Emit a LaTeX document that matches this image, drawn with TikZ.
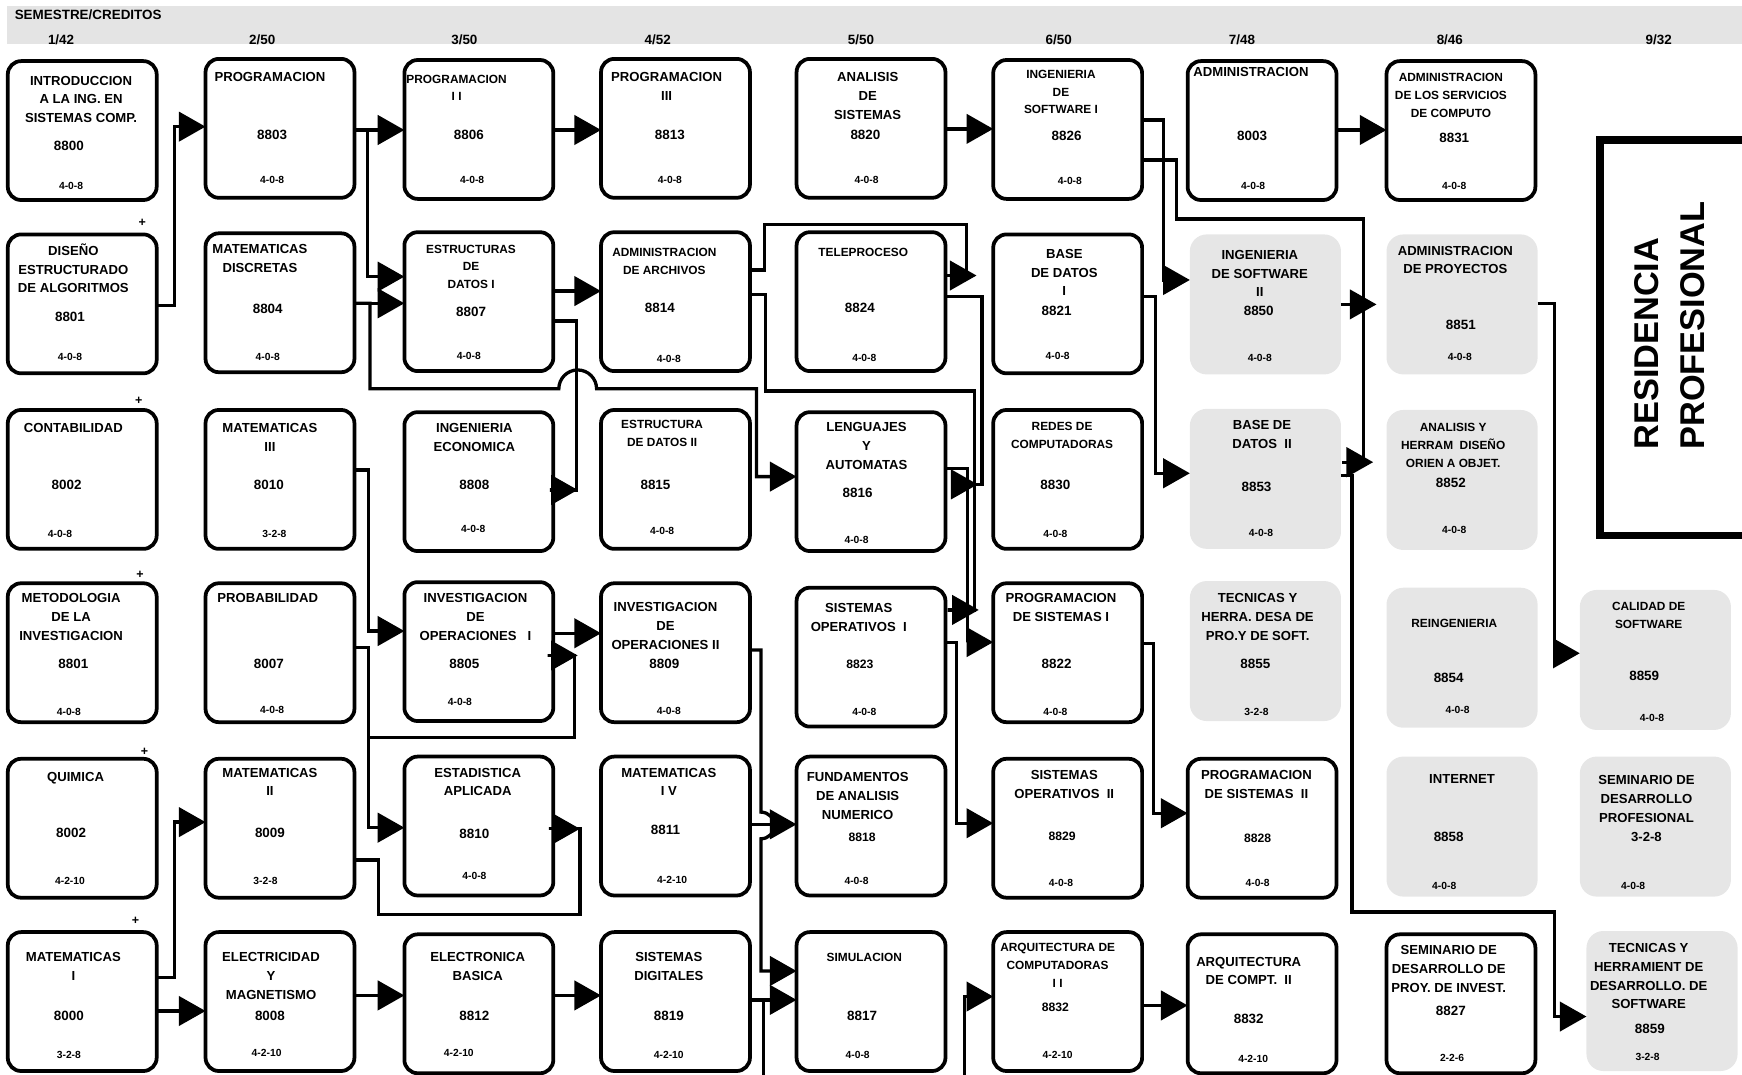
\documentclass[tikz,border=0pt]{standalone}
\usepackage{fontspec}
\setmainfont{Liberation Sans}
\usetikzlibrary{arrows.meta}
\definecolor{banda}{HTML}{E4E4E4}
\definecolor{grisclaro}{HTML}{E6E6E6}
\begin{document}
\begin{tikzpicture}[x=0.025cm,y=-0.025cm,line join=miter,
	blanco/.style={draw,line width=2.4pt,rounded corners=0.3cm,minimum width=3.35cm,minimum height=3.125cm,anchor=north west,inner sep=0pt,outer sep=0pt},
	gris/.style={fill=grisclaro,rounded corners=0.38cm,minimum width=3.4cm,minimum height=3.15cm,anchor=north west,inner sep=0pt,outer sep=0pt},
	ttl/.style={font=\fontsize{8.4}{12}\selectfont\bfseries,align=center,anchor=north,inner sep=0pt},
	ttls/.style={font=\fontsize{7.6}{11.3}\selectfont\bfseries,align=center,anchor=north,inner sep=0pt},
	num/.style={font=\fontsize{8.6}{10}\selectfont\bfseries,inner sep=0pt},
	nums/.style={font=\fontsize{7.8}{10}\selectfont\bfseries,inner sep=0pt},
	cred/.style={font=\fontsize{6.6}{8}\selectfont\bfseries,inner sep=0pt},
	mas/.style={font=\fontsize{8}{8}\selectfont\bfseries,inner sep=0pt},
	lin/.style={line width=2.1pt},
	arr/.style={lin,-{Triangle[length=0.6cm,width=0.66cm]}}]
	\useasboundingbox (0,0) rectangle (1568,967);
	% cabecera
	\fill[banda] (6,5) rectangle (1575,40);
	\node[anchor=west,inner sep=0pt,font=\fontsize{8.6}{10}\selectfont\bfseries] (semcred) at (13,13) {SEMESTRE/CREDITOS};
	\node[num] (s1) at (55,36) {1/42};
	\node[num] (s2) at (236,36) {2/50};
	\node[num] (s3) at (418,36) {3/50};
	\node[num] (s4) at (592,36) {4/52};
	\node[num] (s5) at (775,36) {5/50};
	\node[num] (s6) at (953,36) {6/50};
	\node[num] (s7) at (1118,36) {7/48};
	\node[num] (s8) at (1305,36) {8/46};
	\node[num] (s9) at (1493,36) {9/32};
	% semestre 1
	\node[blanco] (intro) at (7,55) {};
	\node[ttl] (intro-t) at (73,68) {INTRODUCCION\\A LA ING. EN\\SISTEMAS COMP.};
	\node[num] (intro-n) at (62,131) {8800}; \node[cred] (intro-c) at (64,167) {4-0-8};
	\node[blanco] (diseno) at (7,211) {};
	\node[ttl] (diseno-t) at (66,219) {DISEÑO\\ESTRUCTURADO\\DE ALGORITMOS};
	\node[num] (diseno-n) at (63,285) {8801}; \node[cred] (diseno-c) at (63,321) {4-0-8};
	\node[blanco] (conta) at (7,369) {};
	\node[ttl] (conta-t) at (66,381) {CONTABILIDAD};
	\node[num] (conta-n) at (60,436) {8002}; \node[cred] (conta-c) at (54,481) {4-0-8};
	\node[blanco] (metodo) at (7,525) {};
	\node[ttl] (metodo-t) at (64,534) {METODOLOGIA\\DE LA\\INVESTIGACION};
	\node[num] (metodo-n) at (66,598) {8801}; \node[cred] (metodo-c) at (62,641) {4-0-8};
	\node[blanco] (quimica) at (7,683) {};
	\node[ttl] (quimica-t) at (68,695) {QUIMICA};
	\node[num] (quimica-n) at (64,750) {8002}; \node[cred] (quimica-c) at (63,793) {4-2-10};
	\node[blanco] (mateI) at (7,839) {};
	\node[ttl] (mateI-t) at (66,857) {MATEMATICAS\\I};
	\node[num] (mateI-n) at (62,914) {8000}; \node[cred] (mateI-c) at (62,950) {3-2-8};
	\node[mas] (mas1) at (128,201) {+};
	\node[mas] (mas2) at (125,361) {+};
	\node[mas] (mas3) at (126,517) {+};
	\node[mas] (mas4) at (130,677) {+};
	\node[mas] (mas5) at (122,829) {+};
	% semestre 2
	\node[blanco] (progr) at (185,53) {};
	\node[ttl] (progr-t) at (243,65) {PROGRAMACION};
	\node[num] (progr-n) at (245,121) {8803}; \node[cred] (progr-c) at (245,162) {4-0-8};
	\node[blanco] (discr) at (185,210) {};
	\node[ttl] (discr-t) at (234,220) {MATEMATICAS\\DISCRETAS};
	\node[num] (discr-n) at (241,278) {8804}; \node[cred] (discr-c) at (241,321) {4-0-8};
	\node[blanco] (mateIII) at (185,369) {};
	\node[ttl] (mateIII-t) at (243,381) {MATEMATICAS\\III};
	\node[num] (mateIII-n) at (242,436) {8010}; \node[cred] (mateIII-c) at (247,481) {3-2-8};
	\node[blanco] (proba) at (185,525) {};
	\node[ttl] (proba-t) at (241,534) {PROBABILIDAD};
	\node[num] (proba-n) at (242,598) {8007}; \node[cred] (proba-c) at (245,639) {4-0-8};
	\node[blanco] (mateII) at (185,683) {};
	\node[ttl] (mateII-t) at (243,691) {MATEMATICAS\\II};
	\node[num] (mateII-n) at (243,750) {8009}; \node[cred] (mateII-c) at (239,793) {3-2-8};
	\node[blanco] (elec) at (185,839) {};
	\node[ttl] (elec-t) at (244,857) {ELECTRICIDAD\\Y\\MAGNETISMO};
	\node[num] (elec-n) at (243,914) {8008}; \node[cred] (elec-c) at (240,948) {4-2-10};
	% semestre 3
	\node[blanco] (progII) at (364,54) {};
	\node[ttls] (progII-t) at (411,67) {PROGRAMACION\\I I};
	\node[num] (progII-n) at (422,121) {8806}; \node[cred] (progII-c) at (425,162) {4-0-8};
	\node[blanco] (edI) at (364,209) {};
	\node[ttls] (edI-t) at (424,220) {ESTRUCTURAS\\DE\\DATOS I};
	\node[num] (edI-n) at (424,281) {8807}; \node[cred] (edI-c) at (422,320) {4-0-8};
	\node[blanco] (ingeco) at (364,371) {};
	\node[ttl] (ingeco-t) at (427,381) {INGENIERIA\\ECONOMICA};
	\node[num] (ingeco-n) at (427,436) {8808}; \node[cred] (ingeco-c) at (426,476) {4-0-8};
	\node[blanco] (invopI) at (364,524) {};
	\node[ttl] (invopI-t) at (428,534) {INVESTIGACION\\DE\\OPERACIONES~~~I};
	\node[num] (invopI-n) at (418,598) {8805}; \node[cred] (invopI-c) at (414,632) {4-0-8};
	\node[blanco] (estad) at (364,681) {};
	\node[ttl] (estad-t) at (430,691) {ESTADISTICA\\APLICADA};
	\node[num] (estad-n) at (427,751) {8810}; \node[cred] (estad-c) at (427,788) {4-0-8};
	\node[blanco] (electr) at (364,841) {};
	\node[ttl] (electr-t) at (430,857) {ELECTRONICA\\BASICA};
	\node[num] (electr-n) at (427,914) {8812}; \node[cred] (electr-c) at (413,948) {4-2-10};
	% semestre 4
	\node[blanco] (progIII) at (541,53) {};
	\node[ttl] (progIII-t) at (600,65) {PROGRAMACION\\III};
	\node[num] (progIII-n) at (603,121) {8813}; \node[cred] (progIII-c) at (603,162) {4-0-8};
	\node[blanco] (admarch) at (541,209) {};
	\node[ttls] (admarch-t) at (598,223) {ADMINISTRACION\\DE ARCHIVOS};
	\node[num] (admarch-n) at (594,277) {8814}; \node[cred] (admarch-c) at (602,323) {4-0-8};
	\node[blanco] (edII) at (541,369) {};
	\node[ttls] (edII-t) at (596,378) {ESTRUCTURA\\DE DATOS II};
	\node[num] (edII-n) at (590,436) {8815}; \node[cred] (edII-c) at (596,478) {4-0-8};
	\node[blanco] (invopII) at (541,525) {};
	\node[ttl] (invopII-t) at (599,542) {INVESTIGACION\\DE\\OPERACIONES II};
	\node[num] (invopII-n) at (598,598) {8809}; \node[cred] (invopII-c) at (602,640) {4-0-8};
	\node[blanco] (mateIV) at (541,681) {};
	\node[ttl] (mateIV-t) at (602,691) {MATEMATICAS\\I V};
	\node[num] (mateIV-n) at (599,747) {8811}; \node[cred] (mateIV-c) at (605,792) {4-2-10};
	\node[blanco] (sisdig) at (541,839) {};
	\node[ttl] (sisdig-t) at (602,857) {SISTEMAS\\DIGITALES};
	\node[num] (sisdig-n) at (602,914) {8819}; \node[cred] (sisdig-c) at (602,950) {4-2-10};
	% semestre 5
	\node[blanco] (analisis) at (717,53) {};
	\node[ttl] (analisis-t) at (781,65) {ANALISIS\\DE\\SISTEMAS};
	\node[num] (analisis-n) at (779,121) {8820}; \node[cred] (analisis-c) at (780,162) {4-0-8};
	\node[blanco] (telep) at (717,209) {};
	\node[ttls] (telep-t) at (777,223) {TELEPROCESO};
	\node[num] (telep-n) at (774,277) {8824}; \node[cred] (telep-c) at (778,322) {4-0-8};
	\node[blanco] (lengaut) at (717,371) {};
	\node[ttl] (lengaut-t) at (780,380) {LENGUAJES\\Y\\AUTOMATAS};
	\node[num] (lengaut-n) at (772,444) {8816}; \node[cred] (lengaut-c) at (771,486) {4-0-8};
	\node[blanco] (sisopI) at (717,529) {};
	\node[ttl] (sisopI-t) at (773,543) {SISTEMAS\\OPERATIVOS~~I};
	\node[nums] (sisopI-n) at (774,598) {8823}; \node[cred] (sisopI-c) at (778,641) {4-0-8};
	\node[blanco] (fundan) at (717,681) {};
	\node[ttl] (fundan-t) at (772,695) {FUNDAMENTOS\\DE ANALISIS\\NUMERICO};
	\node[nums] (fundan-n) at (776,754) {8818}; \node[cred] (fundan-c) at (771,793) {4-0-8};
	\node[blanco] (simul) at (717,839) {};
	\node[ttls] (simul-t) at (778,858) {SIMULACION};
	\node[num] (simul-n) at (776,914) {8817}; \node[cred] (simul-c) at (772,950) {4-0-8};
	% semestre 6
	\node[blanco] (ingswI) at (894,54) {};
	\node[ttls] (ingswI-t) at (955,63) {INGENIERIA\\DE\\SOFTWARE I};
	\node[num] (ingswI-n) at (960,122) {8826}; \node[cred] (ingswI-c) at (963,163) {4-0-8};
	\node[blanco] (bdI) at (894,211) {};
	\node[ttl] (bdI-t) at (958,224) {BASE\\DE DATOS\\I};
	\node[num] (bdI-n) at (951,280) {8821}; \node[cred] (bdI-c) at (952,320) {4-0-8};
	\node[blanco] (redes) at (894,369) {};
	\node[ttls] (redes-t) at (956,380) {REDES DE\\COMPUTADORAS};
	\node[num] (redes-n) at (950,436) {8830}; \node[cred] (redes-c) at (950,481) {4-0-8};
	\node[blanco] (progsisI) at (894,525) {};
	\node[ttl] (progsisI-t) at (955,534) {PROGRAMACION\\DE SISTEMAS I};
	\node[num] (progsisI-n) at (951,598) {8822}; \node[cred] (progsisI-c) at (950,641) {4-0-8};
	\node[blanco] (sisopII) at (894,683) {};
	\node[ttl] (sisopII-t) at (958,693) {SISTEMAS\\OPERATIVOS~~II};
	\node[nums] (sisopII-n) at (956,753) {8829}; \node[cred] (sisopII-c) at (955,795) {4-0-8};
	\node[blanco] (arqcomp) at (894,839) {};
	\node[ttls] (arqcomp-t) at (952,849) {ARQUITECTURA DE\\COMPUTADORAS\\I I};
	\node[nums] (arqcomp-n) at (950,907) {8832}; \node[cred] (arqcomp-c) at (952,950) {4-2-10};
	% semestre 7
	\node[blanco] (admin) at (1069,55) {};
	\node[ttl] (admin-t) at (1126,60) {ADMINISTRACION};
	\node[num] (admin-n) at (1127,122) {8003}; \node[cred] (admin-c) at (1128,167) {4-0-8};
	\node[gris] (ingswII) at (1071,211) {};
	\node[ttl] (ingswII-t) at (1134,225) {INGENIERIA\\DE SOFTWARE\\II};
	\node[num] (ingswII-n) at (1133,280) {8850}; \node[cred] (ingswII-c) at (1134,322) {4-0-8};
	\node[gris] (bdII) at (1071,368) {};
	\node[ttl] (bdII-t) at (1136,378) {BASE DE\\DATOS~~II};
	\node[num] (bdII-n) at (1131,438) {8853}; \node[cred] (bdII-c) at (1135,480) {4-0-8};
	\node[gris] (tecdes) at (1071,523) {};
	\node[ttl] (tecdes-t) at (1132,534) {TECNICAS Y\\HERRA. DESA DE\\PRO.Y DE SOFT.};
	\node[num] (tecdes-n) at (1130,598) {8855}; \node[cred] (tecdes-c) at (1131,641) {3-2-8};
	\node[blanco] (progsisII) at (1069,683) {};
	\node[ttl] (progsisII-t) at (1131,693) {PROGRAMACION\\DE SISTEMAS~~II};
	\node[nums] (progsisII-n) at (1132,755) {8828}; \node[cred] (progsisII-c) at (1132,795) {4-0-8};
	\node[blanco] (arqcompII) at (1069,841) {};
	\node[ttl] (arqcompII-t) at (1124,861) {ARQUITECTURA\\DE COMPT.~~II};
	\node[num] (arqcompII-n) at (1124,917) {8832}; \node[cred] (arqcompII-c) at (1128,953) {4-2-10};
	% semestre 8
	\node[blanco] (admserv) at (1248,55) {};
	\node[ttls] (admserv-t) at (1306,66) {ADMINISTRACION\\DE LOS SERVICIOS\\DE COMPUTO};
	\node[num] (admserv-n) at (1309,124) {8831}; \node[cred] (admserv-c) at (1309,167) {4-0-8};
	\node[gris] (admproy) at (1248,211) {};
	\node[ttl] (admproy-t) at (1310,221) {ADMINISTRACION\\DE PROYECTOS};
	\node[num] (admproy-n) at (1315,292) {8851}; \node[cred] (admproy-c) at (1314,321) {4-0-8};
	\node[gris] (anaherr) at (1248,369) {};
	\node[ttls] (anaherr-t) at (1308,381) {ANALISIS Y\\HERRAM~~DISEÑO\\ORIEN A OBJET.};
	\node[num] (anaherr-n) at (1306,435) {8852}; \node[cred] (anaherr-c) at (1309,477) {4-0-8};
	\node[gris] (reing) at (1248,529) {};
	\node[ttls] (reing-t) at (1309,557) {REINGENIERIA};
	\node[num] (reing-n) at (1304,610) {8854}; \node[cred] (reing-c) at (1312,639) {4-0-8};
	\node[gris] (internet) at (1248,681) {};
	\node[ttl] (internet-t) at (1316,697) {INTERNET};
	\node[num] (internet-n) at (1304,753) {8858}; \node[cred] (internet-c) at (1300,797) {4-0-8};
	\node[blanco] (semproy) at (1248,841) {};
	\node[ttl] (semproy-t) at (1304,851) {SEMINARIO DE\\DESARROLLO DE\\PROY. DE INVEST.};
	\node[num] (semproy-n) at (1306,910) {8827}; \node[cred] (semproy-c) at (1307,952) {2-2-6};
	% semestre 9
	\draw[line width=5pt] (1440,126) rectangle (1620,482);
	\node[rotate=90,anchor=west,align=left,inner sep=0pt,font=\fontsize{22}{29}\selectfont\bfseries] (resid) at (1503,405) {RESIDENCIA\\PROFESIONAL};
	\node[gris] (calidad) at (1422,531) {};
	\node[ttls] (calidad-t) at (1484,542) {CALIDAD DE\\SOFTWARE};
	\node[num] (calidad-n) at (1480,608) {8859}; \node[cred] (calidad-c) at (1487,646) {4-0-8};
	\node[gris] (semprof) at (1422,681) {};
	\node[ttl] (semprof-t) at (1482,698) {SEMINARIO DE\\DESARROLLO\\PROFESIONAL\\3-2-8};
	\node[cred] (semprof-c) at (1470,797) {4-0-8};
	\node[gris] (techerr) at (1428,838) {};
	\node[ttl] (techerr-t) at (1484,849) {TECNICAS Y\\HERRAMIENT DE\\DESARROLLO. DE\\SOFTWARE};
	\node[num] (techerr-n) at (1485,926) {8859}; \node[cred] (techerr-c) at (1483,951) {3-2-8};
	% puntas sueltas
	\coordinate (edII-p) at (520,441);
	\coordinate (proba-p) at (520,590);
	\coordinate (mateII-p) at (522,746);
	\coordinate (bdI-p) at (879,248);
	\coordinate (redes-p) at (880,436);
	\coordinate (sisopI-p) at (881,549);
	\coordinate (anaherr-p) at (1236,416);
	\coordinate (admproy-p) at (1239,274);
	\coordinate (sal1) at (687,990);
	\coordinate (ent1) at (868,990);
	% conexiones
	\draw[arr] (diseno.east |- 0,275) -| (157,114) -- (progr.west |- 0,114);
	\draw[arr] (progr.east |- 0,117) -- (progII.west |- 0,117);
	\draw[arr] (progr.east |- 0,117) -| (331,249) -- (edI.west |- 0,249);
	\draw[arr] (discr.east |- 0,273) -- (edI.west |- 0,273);
	\draw[arr] (discr.east |- 0,273) -| (333,350) -- (503,350) arc[start angle=180,end angle=360,radius=17] -- (681,350) |- (lengaut.west |- 0,429);
	\draw[arr] (mateIII.east |- 0,423) -| (332,568) -- (invopI.west |- 0,568);
	\draw[arr] (proba.east |- 0,583) -| (332,745) -- (estad.west |- 0,745);
	\draw[arr] (proba.east |- 0,583) -| (332,664) -| (517,590) -- (493,590) -- (proba-p);
	\draw[arr] (mateII.east |- 0,774) -| (341,823) -| (522,746) -- (494,746) -- (mateII-p);
	\draw[arr] (mateI.east |- 0,880) -| (157,740) -- (mateII.west |- 0,740);
	\draw[arr] (mateI.east |- 0,910) -- (elec.west |- 0,910);
	\draw[arr] (elec.east |- 0,896) -- (electr.west |- 0,896);
	\draw[arr] (progII.east |- 0,117) -- (progIII.west |- 0,117);
	\draw[arr] (edI.east |- 0,262) -- (admarch.west |- 0,262);
	\draw[arr] (edI.east |- 0,289) -| (519,441) -- (495,441) -- (edII-p);
	\draw[arr] (invopI.east |- 0,570) -- (invopII.west |- 0,570);
	\draw[arr] (electr.east |- 0,896) -- (sisdig.west |- 0,896);
	\draw[arr] (admarch.east |- 0,243) -| (688,202) -| (870,248) -- (852,248) -- (bdI-p);
	\draw[arr] (admarch.east |- 0,265) -| (689,352) -| (877,549) -- (853,549) -- (sisopI-p);
	\draw[arr] (invopII.east |- 0,585) -| (685,731) arc[start angle=270,end angle=450,radius=12] |- (simul.west |- 0,874);
	\draw[arr] (mateIV.east |- 0,742) -- (fundan.west |- 0,742);
	\draw[arr] (sisdig.east |- 0,900) -- (simul.west |- 0,900);
	\draw[lin] (sisdig.east |- 0,900) -| (sal1);
	\draw[arr] (analisis.east |- 0,116) -- (ingswI.west |- 0,116);
	\draw[arr] (telep.east |- 0,267) -| (884,436) -- (857,436) -- (redes-p);
	\draw[arr] (lengaut.east |- 0,422) -| (871,578) -- (progsisI.west |- 0,578);
	\draw[arr] (sisopI.east |- 0,578) -| (861,741) -- (sisopII.west |- 0,741);
	\draw[arr] (ent1) |- (arqcomp.west |- 0,897);
	\draw[arr] (ingswI.east |- 0,108) -| (1047,252) -- (ingswII.west |- 0,252);
	\draw[arr] (ingswI.east |- 0,144) -| (1059,197) -| (1227,416) -- (1208,416) -- (anaherr-p);
	\draw[arr] (bdI.east |- 0,267) -| (1040,426) -- (bdII.west |- 0,426);
	\draw[arr] (progsisI.east |- 0,579) -| (1038,732) -- (progsisII.west |- 0,732);
	\draw[arr] (arqcomp.east |- 0,905) -- (arqcompII.west |- 0,905);
	\draw[arr] (admin.east |- 0,117) -- (admserv.west |- 0,117);
	\draw[arr] (ingswII.east |- 0,274) -- (admproy-p);
	\draw[arr] (bdII.east |- 0,428) -| (1217,821) -| (1399,915) -- (techerr.west |- 0,915);
	\draw[arr] (admproy.east |- 0,273) -| (1399,588) -- (calidad.west |- 0,588);
\end{tikzpicture}
\end{document}
